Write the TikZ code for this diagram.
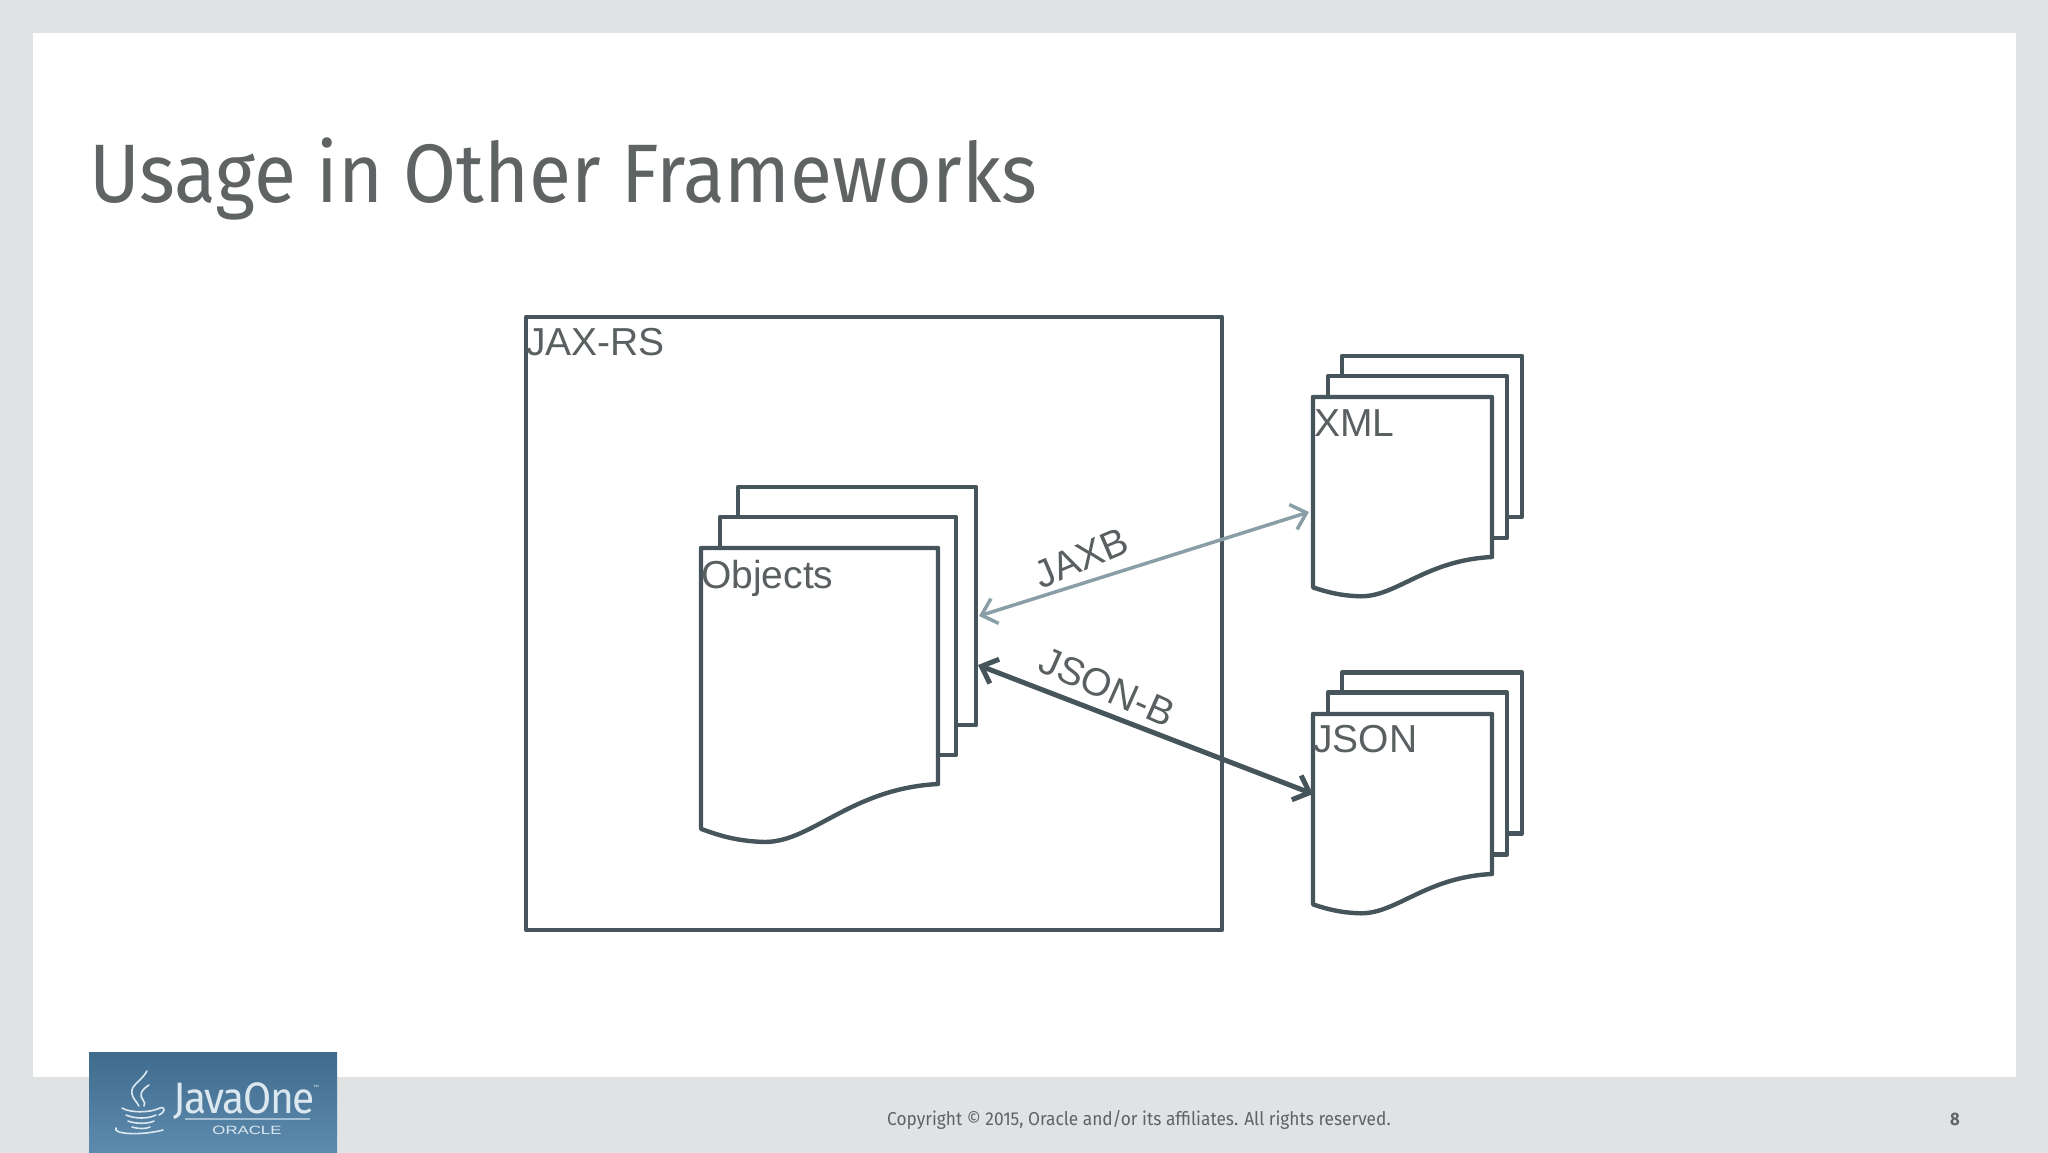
\documentclass[tikz,border=0pt]{standalone}
\usepackage{fontspec}
\setmainfont{Liberation Sans}
\newfontfamily\slidefont[FakeStretch=0.925]{Fira Sans}
\usepackage{xcolor}
\usetikzlibrary{arrows.meta,calc}
\definecolor{slidebg}{HTML}{DFE3E4}
\definecolor{inkc}{HTML}{46555B}
\definecolor{paleinkc}{HTML}{8A9EA8}
\definecolor{textc}{HTML}{5A5F61}
\definecolor{titlec}{HTML}{5F6363}
\definecolor{logotop}{HTML}{3F6B8D}
\definecolor{logobot}{HTML}{5D8BAE}
\definecolor{logoink}{HTML}{DCE8F0}
\newcommand{\frontsheet}[4]{% x, y, width, height of the straight right edge
  \draw[sheetline, fill=white, shift={(#1,#2)}, x=#3pt, y=-#4pt]
    (0,0) -- (1,0) -- (1,1)
    .. controls (0.62,1.02) and (0.46,1.26) .. (0.25,1.245)
    .. controls (0.15,1.24) and (0.08,1.22) .. (0,1.19) -- cycle;
}
\begin{document}
\begin{tikzpicture}[
  x=1pt, y=-1pt,
  sheetline/.style={draw=inkc, line width=4.4pt, line join=round},
  sheet/.style    ={sheetline, fill=white, rectangle, inner sep=0pt, outer sep=0pt},
  lbl/.style      ={text=textc, font=\fontsize{39}{39}\selectfont, inner sep=0pt},
  ar/.style       ={{Straight Barb[length=14pt, width=26pt]}-{Straight Barb[length=14pt, width=26pt]}}
]
\useasboundingbox (0,0) rectangle (2048,1153);
% ---------- slide ----------
\fill[slidebg] (0,0) rectangle (2048,1153);
\fill[white] (33,33) rectangle (2016,1077);
\node[titlec, anchor=base west, inner sep=0pt, font=\slidefont\fontsize{83}{83}\selectfont] (title) at (89,202)
  {Usage in Other Frameworks};

% ---------- JAX-RS box ----------
\node[sheet, minimum width=696pt, minimum height=613pt] (jaxrs) at (874,623.5) {};
\node[lbl, anchor=base west] (jaxrslbl) at (526,355) {JAX-RS};

% ---------- objects stack ----------
\node[sheet, minimum width=238pt, minimum height=238pt] (objback) at (857,606) {};
\node[sheet, minimum width=236pt, minimum height=238pt] (objmid)  at (838,636) {};
\frontsheet{701}{548}{237}{236}
\node[lbl, anchor=base west] (objlbl) at (701,588) {Objects};

% ---------- XML stack ----------
\node[sheet, minimum width=180pt, minimum height=161pt] (xmlback) at (1432,436.5) {};
\node[sheet, minimum width=179pt, minimum height=162pt] (xmlmid)  at (1417.5,457) {};
\frontsheet{1313}{397}{179}{160}
\node[lbl, anchor=base west] (xmllbl) at (1314,436) {XML};

% ---------- JSON stack ----------
\node[sheet, minimum width=180pt, minimum height=161pt] (jsonback) at (1432,753) {};
\node[sheet, minimum width=179pt, minimum height=162pt] (jsonmid)  at (1417.5,773.5) {};
\frontsheet{1313}{714}{179}{160}
\node[lbl, anchor=base west] (jsonlbl) at (1313,752) {JSON};

% ---------- connectors ----------
\coordinate (objjaxb) at ($(objback.north east)+(3,129)$);
\coordinate (xmljaxb) at ($(xmlback.north west)+(-33,156)$);
\coordinate (objjson) at ($(objback.north east)+(2,178)$);
\coordinate (jsonjson) at ($(jsonback.north west)+(-29,121.5)$);
\draw[ar, paleinkc, line width=3.5pt] (objjaxb) -- (xmljaxb);
\draw[ar, inkc, line width=5pt] (objjson) -- (jsonjson);
\node[lbl, rotate=23] (jaxb) at (1081,558) {JAXB};
\node[lbl, rotate=-24] (jsonb) at (1107,687) {JSON-B};

% ---------- footer ----------
\node[titlec, anchor=base west, inner sep=0pt, font=\slidefont\fontsize{18.7}{18.7}\selectfont] (copyr) at (887,1125)
  {Copyright © 2015, Oracle and/or its affiliates. All rights reserved.};
\node[titlec, anchor=base, inner sep=0pt, font=\slidefont\bfseries\fontsize{18}{18}\selectfont] (pageno) at (1955,1125) {8};

% ---------- logo ----------
\shade[top color=logotop, bottom color=logobot] (89,1052) rectangle (337,1153);
\node[logoink, anchor=base west, inner sep=0pt, font=\slidefont\fontsize{44}{44}\selectfont\addfontfeature{LetterSpace=-3}] (javaone) at (173,1113) {JavaOne};
\node[logoink, anchor=west, inner sep=0pt, font=\fontsize{6}{6}\selectfont] (javatm) at (313,1087) {™};
\node[logoink, anchor=base, inner sep=0pt, font=\fontsize{12}{12}\selectfont\addfontfeature{FakeStretch=1.4}] (oracle) at (247,1134) {ORACLE};
\draw[logoink!55!logobot, line width=1.5pt] (185,1119) -- (310,1119);
% cup
\draw[logoink, line width=1.6pt, line cap=round]
  (147,1071) .. controls (141,1082) and (130,1085) .. (132,1094) .. controls (133,1099) and (137,1102) .. (139,1106)
  (149,1085) .. controls (141,1090) and (139,1095) .. (143,1100) .. controls (145,1102) and (145,1104) .. (144,1106)
  (122,1108) .. controls (130,1113) and (150,1113) .. (160,1108)
  (160,1108) .. controls (166,1106) and (165,1113) .. (159,1115)
  (126,1115) .. controls (135,1119) and (148,1119) .. (156,1115)
  (128,1121) .. controls (135,1124) and (148,1124) .. (154,1121)
  (132,1127) .. controls (138,1129) and (146,1129) .. (150,1127)
  (116,1128) .. controls (112,1134) and (140,1136) .. (163,1130);
\end{tikzpicture}
\end{document}
